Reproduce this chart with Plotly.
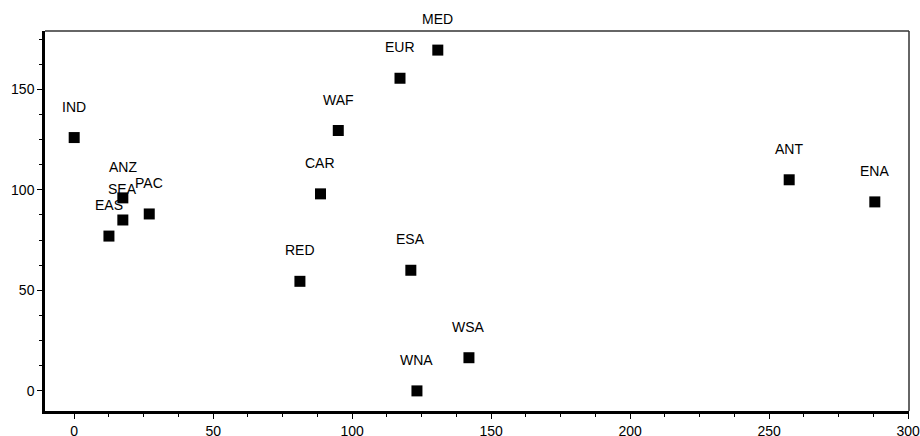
import plotly.graph_objects as go

regions = ["IND", "ANZ", "SEA", "PAC", "EAS", "CAR", "WAF", "EUR", "MED",
           "RED", "ESA", "WSA", "WNA", "ANT", "ENA"]
x_vals = [0, 17.5, 17.5, 27, 12.5, 88.6, 95, 117.2, 130.8,
          81.2, 121.1, 142, 123.3, 257.2, 288]
y_vals = [126, 96, 85, 88, 77, 98, 129.5, 155.5, 169.5,
          54.5, 60, 16.5, 0, 105, 94]

x_ticks = [0, 50, 100, 150, 200, 250, 300]
y_ticks = [0, 50, 100, 150]

fig = go.Figure()
fig.add_trace(go.Scatter(
    x=x_vals, y=y_vals, mode="markers",
    marker=dict(symbol="square", size=11, color="black"),
    hoverinfo="text", text=regions, showlegend=False,
))

for name, xv, yv in zip(regions, x_vals, y_vals):
    fig.add_annotation(x=xv, y=yv, text=name, showarrow=False,
                       yshift=31, xanchor="center", yanchor="middle",
                       font=dict(family="Liberation Sans, Arial, sans-serif",
                                 size=14, color="black"))

axis_common = dict(
    showgrid=False, zeroline=False, showline=True, linecolor="black",
    linewidth=2.5, ticks="outside", ticklen=5, tickwidth=1.2, tickcolor="black",
    automargin=False, ticklabeloverflow="allow",
    tickfont=dict(family="Liberation Sans, Arial, sans-serif", size=14, color="black"),
)

fig.update_layout(
    width=920, height=436,
    margin=dict(l=45, r=11, t=31, b=25),
    paper_bgcolor="white", plot_bgcolor="white",
    xaxis=dict(range=[-10.5, 300.3], tickvals=x_ticks,
               minor=dict(dtick=12.5, tick0=0, ticks="outside", ticklen=3,
                          tickwidth=1, tickcolor="black"),
               **axis_common),
    yaxis=dict(range=[-10, 179], tickvals=y_ticks,
               minor=dict(dtick=12.5, tick0=0, ticks="outside", ticklen=3,
                          tickwidth=1, tickcolor="black"),
               **axis_common),
    shapes=[
        dict(type="line", xref="paper", yref="paper", x0=0, x1=1, y0=1, y1=1,
             line=dict(color="#333", width=1.5)),
        dict(type="line", xref="paper", yref="paper", x0=1, x1=1, y0=0, y1=1,
             line=dict(color="#333", width=1.5)),
    ],
)

fig.write_html("out.html", config={"displayModeBar": False},
               post_script="document.body.style.margin='0';document.body.style.overflow='hidden';")
